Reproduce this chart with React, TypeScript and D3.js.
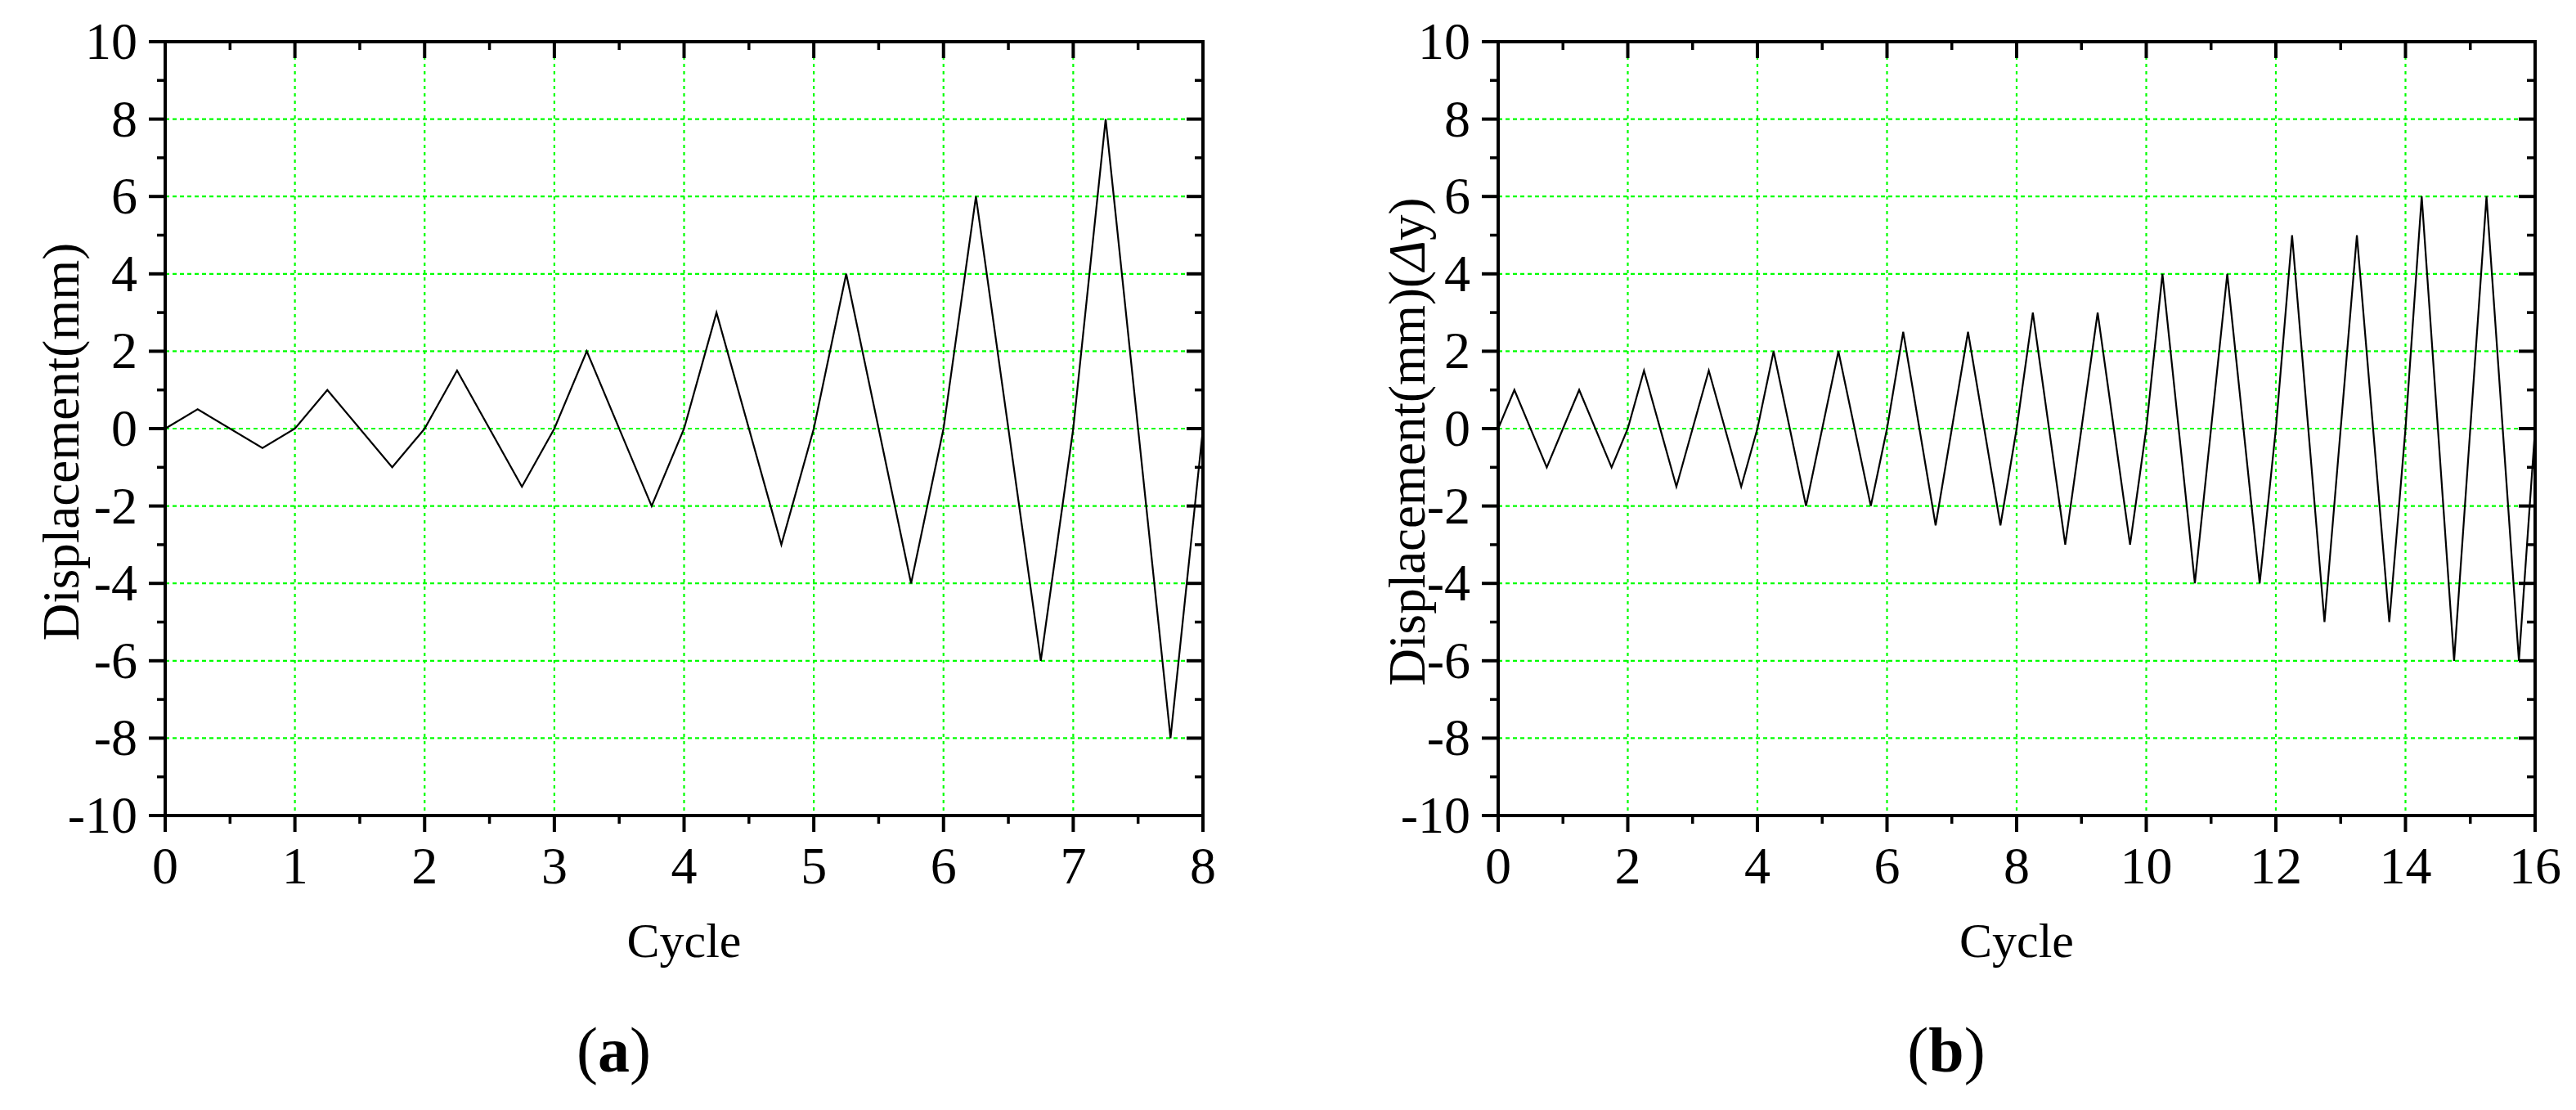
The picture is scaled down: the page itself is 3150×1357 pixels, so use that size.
import { useEffect } from "react";
import * as d3 from "d3";

// panel (a): loading protocol in mm
const cyclesA = [0, 0.25, 0.75, 1, 1.25, 1.75, 2, 2.25, 2.75, 3, 3.25, 3.75, 4, 4.25, 4.75, 5, 5.25, 5.75, 6, 6.25, 6.75, 7, 7.25, 7.75, 8];
const dispA = [0, 0.5, -0.5, 0, 1, -1, 0, 1.5, -1.5, 0, 2, -2, 0, 3, -3, 0, 4, -4, 0, 6, -6, 0, 8, -8, 0];

// panel (b): loading protocol in multiples of yield displacement
const cyclesB = [
  0, 0.25, 0.75, 1, 1.25, 1.75, 2, 2.25, 2.75, 3, 3.25, 3.75, 4, 4.25, 4.75, 5, 5.25, 5.75,
  6, 6.25, 6.75, 7, 7.25, 7.75, 8, 8.25, 8.75, 9, 9.25, 9.75, 10, 10.25, 10.75, 11, 11.25, 11.75,
  12, 12.25, 12.75, 13, 13.25, 13.75, 14, 14.25, 14.75, 15, 15.25, 15.75, 16,
];
const dispB = [
  0, 1, -1, 0, 1, -1, 0, 1.5, -1.5, 0, 1.5, -1.5, 0, 2, -2, 0, 2, -2,
  0, 2.5, -2.5, 0, 2.5, -2.5, 0, 3, -3, 0, 3, -3, 0, 4, -4, 0, 4, -4,
  0, 5, -5, 0, 5, -5, 0, 6, -6, 0, 6, -6, 0,
];

const yTicks = [-10, -8, -6, -4, -2, 0, 2, 4, 6, 8, 10];
const yMinor = [-9, -7, -5, -3, -1, 1, 3, 5, 7, 9];
const xTicksA = [0, 1, 2, 3, 4, 5, 6, 7, 8];
const xMinorA = [0.5, 1.5, 2.5, 3.5, 4.5, 5.5, 6.5, 7.5];
const xTicksB = [0, 2, 4, 6, 8, 10, 12, 14, 16];
const xMinorB = [1, 3, 5, 7, 9, 11, 13, 15];

const FONT = '"Liberation Serif", "Times New Roman", Times, serif';
const GRID = "#00ff00";
const TOP = 51;
const BOTTOM = 997;

interface PanelProps {
  left: number;
  right: number;
  xMax: number;
  xTicks: number[];
  xMinor: number[];
  xs: number[];
  ys: number[];
  titleX: number;
  title: React.ReactNode;
  tag: string;
}

function Panel({ left, right, xMax, xTicks, xMinor, xs, ys, titleX, title, tag }: PanelProps) {
  const x = d3.scaleLinear().domain([0, xMax]).range([left, right]);
  const y = d3.scaleLinear().domain([-10, 10]).range([BOTTOM, TOP]);
  const path = d3
    .line<number>()
    .x((_, i) => x(xs[i]))
    .y((d) => y(d))(ys) ?? "";
  const cx = (left + right) / 2;
  const midY = 540;

  return (
    <g>
      {/* grid */}
      {xTicks.filter((t) => t > 0 && t < xMax).map((t) => (
        <line key={"gx" + t} x1={x(t)} x2={x(t)} y1={TOP} y2={BOTTOM}
          stroke={GRID} strokeWidth={2.2} strokeDasharray="4,5" />
      ))}
      {yTicks.filter((t) => t > -10 && t < 10).map((t) => (
        <line key={"gy" + t} x1={left} x2={right} y1={y(t)} y2={y(t)}
          stroke={GRID} strokeWidth={2.2} strokeDasharray="5,4" />
      ))}

      <path d={path} fill="none" stroke="#000" strokeWidth={2.2} strokeLinejoin="miter" />

      {/* ticks */}
      {yTicks.map((t) => (
        <g key={"ty" + t} stroke="#000" strokeWidth={4}>
          <line x1={left - 20} x2={left} y1={y(t)} y2={y(t)} />
          <line x1={right - 20} x2={right} y1={y(t)} y2={y(t)} />
        </g>
      ))}
      {yMinor.map((t) => (
        <g key={"my" + t} stroke="#000" strokeWidth={3.5}>
          <line x1={left - 10} x2={left} y1={y(t)} y2={y(t)} />
          <line x1={right - 10} x2={right} y1={y(t)} y2={y(t)} />
        </g>
      ))}
      {xTicks.map((t) => (
        <g key={"tx" + t} stroke="#000" strokeWidth={4}>
          <line x1={x(t)} x2={x(t)} y1={BOTTOM} y2={BOTTOM + 20} />
          <line x1={x(t)} x2={x(t)} y1={TOP} y2={TOP + 20} />
        </g>
      ))}
      {xMinor.map((t) => (
        <g key={"mx" + t} stroke="#000" strokeWidth={3.5}>
          <line x1={x(t)} x2={x(t)} y1={BOTTOM} y2={BOTTOM + 10} />
          <line x1={x(t)} x2={x(t)} y1={TOP} y2={TOP + 10} />
        </g>
      ))}

      <rect x={left} y={TOP} width={right - left} height={BOTTOM - TOP}
        fill="none" stroke="#000" strokeWidth={4} />

      {/* tick labels */}
      <g fontFamily={FONT} fontSize={64} fill="#000">
        {yTicks.map((t) => (
          <text key={"ly" + t} x={left - 34} y={y(t) + 21} textAnchor="end">{String(t)}</text>
        ))}
        {xTicks.map((t) => (
          <text key={"lx" + t} x={x(t)} y={BOTTOM + 83} textAnchor="middle">{String(t)}</text>
        ))}
      </g>

      <text x={cx} y={1170} textAnchor="middle" fontFamily={FONT} fontSize={60}>Cycle</text>
      <text transform={`translate(${titleX},${midY}) rotate(-90)`} textAnchor="middle"
        fontFamily={FONT} fontSize={63}>{title}</text>

      <text x={cx - 86} y={1310} textAnchor="middle" fontFamily={FONT} fontSize={78}>
        (<tspan fontWeight="bold">{tag}</tspan>)
      </text>
    </g>
  );
}

export default function App() {
  useEffect(() => {
    document.body.style.margin = "0";
  }, []);

  return (
    <svg width={3150} height={1357} style={{ display: "block", background: "#fff" }}>
      <rect width={3150} height={1357} fill="#fff" />
      <Panel left={202} right={1471} xMax={8} xTicks={xTicksA} xMinor={xMinorA}
        xs={cyclesA} ys={dispA} titleX={96} title="Displacement(mm)" tag="a" />
      <Panel left={1832} right={3100} xMax={16} xTicks={xTicksB} xMinor={xMinorB}
        xs={cyclesB} ys={dispB} titleX={1742}
        title={<>Displacement(mm)(<tspan fontStyle="italic">Δ</tspan>y)</>} tag="b" />
    </svg>
  );
}
